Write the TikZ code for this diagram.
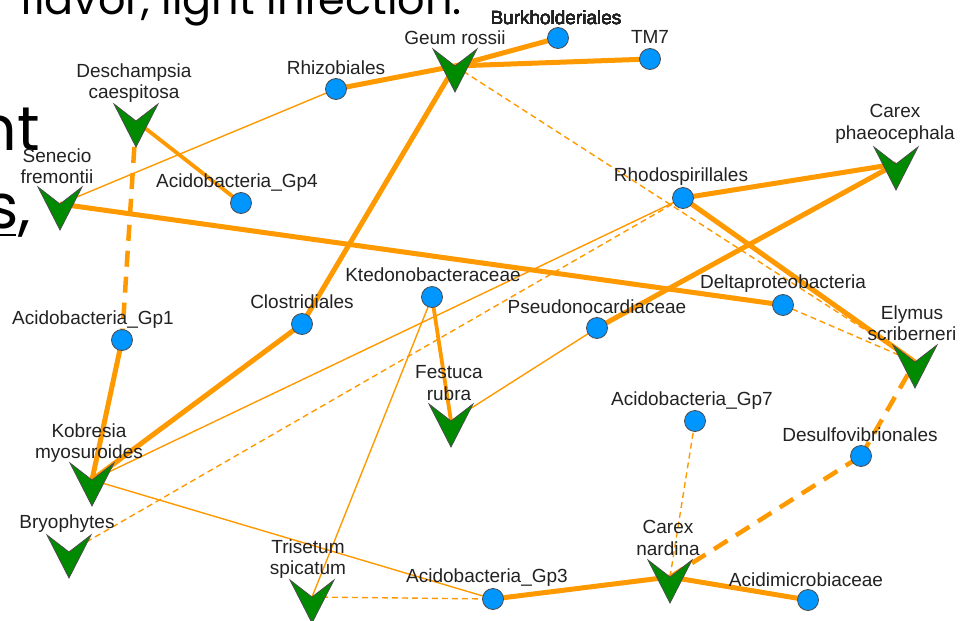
\documentclass[tikz,border=0pt]{standalone}
\usepackage{fontspec}
\setmainfont{Liberation Sans}
\newfontfamily\bigfont{Poppins}
\definecolor{edgec}{RGB}{255,153,0}
\definecolor{bact}{RGB}{0,150,255}
\definecolor{plantc}{RGB}{0,138,0}
\definecolor{lbl}{RGB}{34,34,34}
\tikzset{
 bnode/.style={circle,fill=bact,draw=black!70,line width=0.8pt,minimum size=21pt,inner sep=0pt},
 lab/.style={text=lbl,font=\fontsize{19}{21.5}\selectfont,align=center,inner sep=0pt},
 thickE/.style={draw=edgec,line width=5pt},
 midE/.style={draw=edgec,line width=3.8pt},
 thinE/.style={draw=edgec,line width=1.4pt},
 thinD/.style={draw=edgec,line width=1.4pt,dash pattern=on 6pt off 4pt},
 thickD/.style={draw=edgec,line width=4.5pt,dash pattern=on 16pt off 10pt},
 plantshape/.style={fill=plantc,draw=black!70,line width=0.8pt,line join=miter},
 bigtext/.style={inner sep=0pt,text=black},
}
\newcommand\plantV[1]{\path[plantshape,shift={(#1)}] (-22,-17) -- (0,0) -- (22,-17) -- (0,26) -- cycle;}
\begin{document}
\begin{tikzpicture}[x=1pt,y=-1pt]
\useasboundingbox (0,0) rectangle (970,621);
\fill[white] (0,0) rectangle (970,621);
\clip (0,0) rectangle (970,621);
% background slide text
\node[bigtext,font=\bigfont\fontsize{43}{43}\selectfont,anchor=base west] (t1) at (20,15) {flavor, light infection.};
\node[bigtext,font=\bigfont\fontsize{62}{62}\selectfont,anchor=base east] (t2) at (40,150) {nt};
\node[bigtext,font=\bigfont\fontsize{62}{62}\selectfont,anchor=base east] (t3) at (31,228) {s,};
\draw[line width=2.5pt] (0,235) -- (16,235);
% bacteria positions
\coordinate (burk) at (558,38);
\coordinate (tm7) at (650,59);
\coordinate (rhizo) at (336,89);
\coordinate (gp4) at (241,203);
\coordinate (rhodo) at (683,198);
\coordinate (ktedo) at (432,297);
\coordinate (clos) at (302,324);
\coordinate (delta) at (783,305);
\coordinate (pseudo) at (597,328);
\coordinate (gp1) at (122,340);
\coordinate (gp7) at (695,421);
\coordinate (desulfo) at (861,456);
\coordinate (gp3) at (493,599);
\coordinate (acidim) at (808,600);
% plant notch positions
\coordinate (geum) at (455,66);
\coordinate (desch) at (136,121);
\coordinate (senecio) at (60,204);
\coordinate (carexp) at (896,164);
\coordinate (elymus) at (915,362);
\coordinate (festuca) at (451,421);
\coordinate (kobresia) at (92,480);
\coordinate (bryo) at (69,552);
\coordinate (trisetum) at (312,597);
\coordinate (carexn) at (670,577);
% edges
\draw[thickE] (geum) -- (burk);
\draw[thickE] (geum) -- (tm7);
\draw[thickE] (geum) -- (rhizo);
\draw[thickE] (geum) -- (clos);
\draw[thinD] (geum) -- (elymus);
\draw[thinD] (delta) -- (elymus);
\draw[midE] (desch) -- (gp4);
\draw[thickD] (desch) -- (gp1);
\draw[thickE] (gp1) -- (kobresia);
\draw[thinE] (senecio) -- (rhizo);
\draw[thickE] (senecio) -- (delta);
\draw[thickE] (kobresia) -- (clos);
\draw[thinE] (kobresia) -- (rhodo);
\draw[thinD] (bryo) -- (rhodo);
\draw[thinE] (kobresia) -- (gp3);
\draw[thickE] (rhodo) -- (carexp);
\draw[thickE] (rhodo) -- (elymus);
\draw[thickE] (pseudo) -- (carexp);
\draw[thinE] (pseudo) -- (festuca);
\draw[midE] (ktedo) -- (festuca);
\draw[thinE] (ktedo) -- (trisetum);
\draw[thinD] (trisetum) -- (gp3);
\draw[thickE] (gp3) -- (carexn);
\draw[thickE] (carexn) -- (acidim);
\draw[thinD] (carexn) -- (gp7);
\draw[thickD] (carexn) -- (desulfo);
\draw[thickD] (desulfo) -- (elymus);
% bacteria nodes
\foreach \n in {burk,tm7,rhizo,gp4,rhodo,ktedo,clos,delta,pseudo,gp1,gp7,desulfo,gp3,acidim}
  \node[bnode] (\n-c) at (\n) {};
% plant nodes
\foreach \n in {geum,desch,senecio,carexp,elymus,festuca,kobresia,bryo,trisetum,carexn}
  \plantV{\n}
% labels
\node[lab] (burk-l) at (556,18) {Burkholderiales};
\node[lab] (tm7-l) at (650,37) {TM7};
\node[lab] (rhizo-l) at (336,68) {Rhizobiales};
\node[lab] (gp4-l) at (237,183) {Acidobacteria\_Gp4};
\node[lab] (rhodo-l) at (681,177) {Rhodospirillales};
\node[lab] (ktedo-l) at (433,275) {Ktedonobacteraceae};
\node[lab] (clos-l) at (302,302) {Clostridiales};
\node[lab] (delta-l) at (783,284) {Deltaproteobacteria};
\node[lab] (pseudo-l) at (597,307) {Pseudonocardiaceae};
\node[lab] (gp1-l) at (93,320) {Acidobacteria\_Gp1};
\node[lab] (gp7-l) at (692,401) {Acidobacteria\_Gp7};
\node[lab] (desulfo-l) at (860,435) {Desulfovibrionales};
\node[lab] (gp3-l) at (487,578) {Acidobacteria\_Gp3};
\node[lab] (acidim-l) at (806,580) {Acidimicrobiaceae};
\node[lab] (geum-l) at (455,38) {Geum rossii};
\node[lab] (desch-l) at (134,83) {Deschampsia\\caespitosa};
\node[lab] (senecio-l) at (57,166) {Senecio\\fremontii};
\node[lab] (carexp-l) at (895,124) {Carex\\phaeocephala};
\node[lab] (elymus-l) at (912,323) {Elymus\\scriberneri};
\node[lab] (festuca-l) at (449,383) {Festuca\\rubra};
\node[lab] (kobresia-l) at (89,443) {Kobresia\\myosuroides};
\node[lab] (bryo-l) at (67,524) {Bryophytes};
\node[lab] (trisetum-l) at (308,559) {Trisetum\\spicatum};
\node[lab] (carexn-l) at (668,538) {Carex\\nardina};
\end{tikzpicture}
\end{document}
